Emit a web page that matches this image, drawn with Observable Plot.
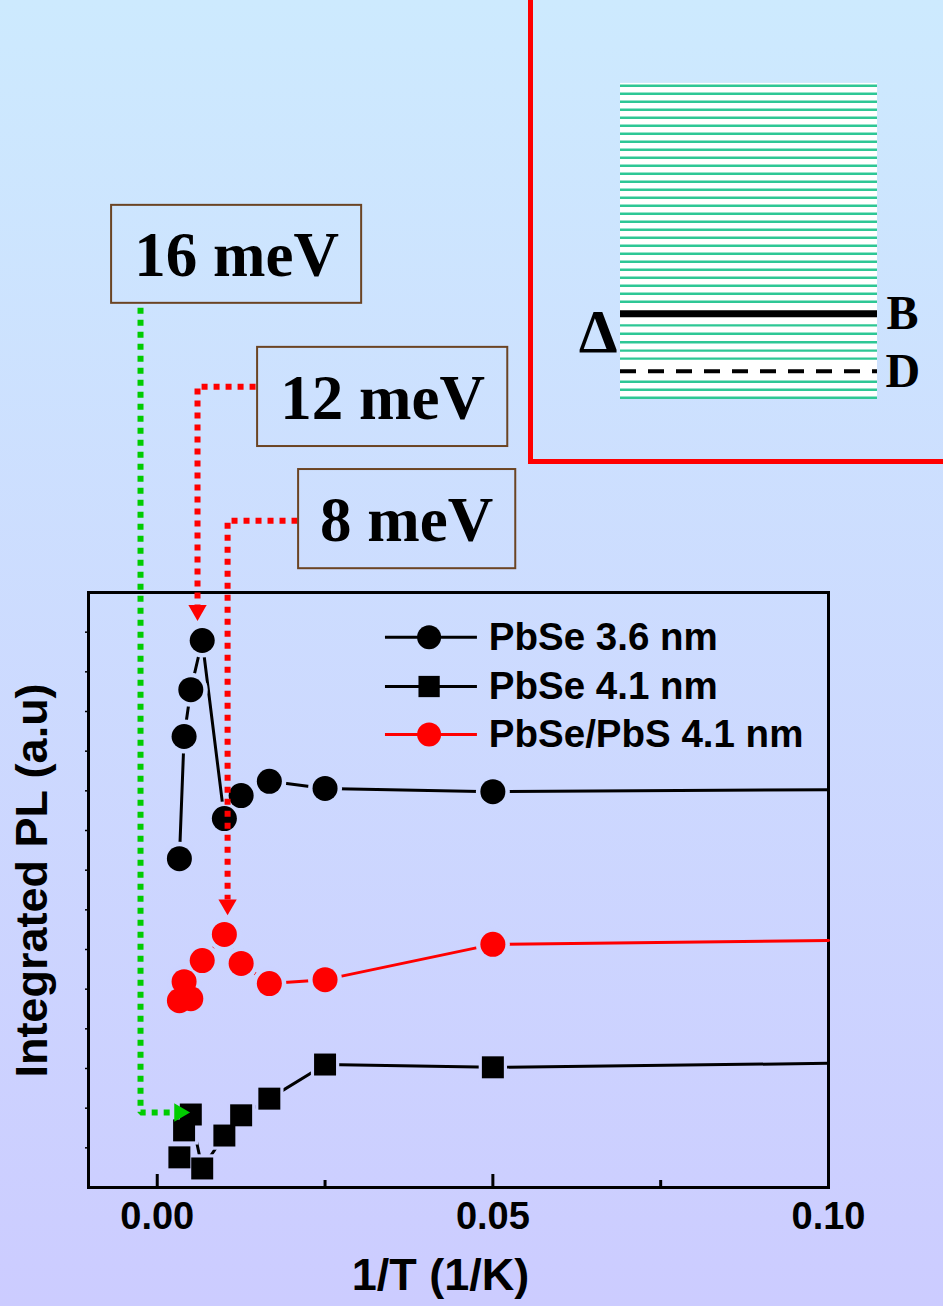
<!DOCTYPE html>
<html><head><meta charset="utf-8">
<script src="https://cdn.jsdelivr.net/npm/d3@7"></script>
<script src="https://cdn.jsdelivr.net/npm/@observablehq/plot@0.6"></script>
<style>
html,body{margin:0;padding:0;overflow:hidden;}
#page{position:relative;width:943px;height:1306px;background:linear-gradient(to bottom,#cdeafe 0%,#ccccff 100%);overflow:hidden;}
#main{position:absolute;left:0;top:0;}
#inset{position:absolute;left:528px;top:-5px;width:415px;height:469px;border-left:5px solid #ff0000;border-bottom:5px solid #ff0000;box-sizing:border-box;}
#inset svg, #main svg{display:block;}
</style></head><body><div id="page"><div id="main"></div><div id="inset"></div></div>
<script>
// ---------- data ----------
const invT = [0.0033, 0.004, 0.005, 0.0067, 0.01, 0.0125, 0.0167, 0.025, 0.05, 0.1];
const pbse36 = [8.29, 11.37, 12.55, 13.79, 9.30, 9.88, 10.24, 10.06, 9.98, 10.03];
const pbse41 = [0.76, 1.44, 1.84, 0.48, 1.31, 1.82, 2.24, 3.10, 3.03, 3.13];
const pbsePbs41 = [4.71, 5.19, 4.76, 5.72, 6.38, 5.65, 5.14, 5.24, 6.13, 6.23];
const seriesNames = ["PbSe 3.6 nm", "PbSe 4.1 nm", "PbSe/PbS 4.1 nm"];
const xMajorTicks = [0, 0.05, 0.1];
const xMinorTicks = [0.025, 0.075];
const yTicks = [1,2,3,4,5,6,7,8,9,10,11,12,13,14];
const xTitle = "1/T (1/K)";
const yTitle = "Integrated PL (a.u)";
const energyLabels = ["16 meV", "12 meV", "8 meV"];
// inset energy levels
const greenLevels = [0,1,2,4.9,5.9,6.95,8,9.05,12,13,14,15,16,17,18,19,20,21,22,23,24,25,26,27,28,29,30,31,32,33,34,35,36,37,38,39];
const brightLevel = [10.5];
const darkLevel = [3.33];
const insetLabels = ["B", "D", "Δ"];

// ---------- layout / style ----------
const W = 943, H = 1306, mL = 88, mR = 115, mT = 592, mB = 119;
const xDomain = [-0.01024, 0.1], yDomain = [0, 15];
const bgTop = "#cdeafe", bgBottom = "#ccccff";
const sans = "Liberation Sans, Arial, Helvetica, sans-serif";
const serif = "Liberation Serif, Times New Roman, serif";
const seriesStyle = [
  {color: "black", symbol: "circle", r: 12.5},
  {color: "black", symbol: "square", r: 12.4},
  {color: "#ff0000", symbol: "circle", r: 12.5}
];
const seriesValues = [pbse36, pbse41, pbsePbs41];

const rows = [];
seriesNames.forEach((name, s) => {
  invT.forEach((x, i) => rows.push({series: name, x, y: seriesValues[s][i], ...seriesStyle[s]}));
});
const markerRows = rows.filter(d => d.x < 0.1);
const frameH = H - mT - mB, frameW = W - mL - mR;
const pyOf = y => mT + (yDomain[1] - y) / (yDomain[1] - yDomain[0]) * frameH;
const haloFill = d => d3.interpolateRgb(bgTop, bgBottom)(pyOf(d.y) / H);

// legend (positions in data space)
const legendRows = [13.87, 12.63, 11.42];
const legendItems = seriesNames.map((label, i) => ({label, y: legendRows[i], ...seriesStyle[i]}));
const legendX = {lineStart: 0.034, marker: 0.0405, lineEnd: 0.0477, text: 0.0494};

// annotation boxes (data space)
const boxes = [
  {label: energyLabels[0], x1: -0.0068, x2: 0.03045, y1: 22.29, y2: 24.76, tx: 0.01182, ty: 23.48},
  {label: energyLabels[1], x1: 0.01495, x2: 0.05222, y1: 18.68, y2: 21.18, tx: 0.03357, ty: 19.88},
  {label: energyLabels[2], x1: 0.02106, x2: 0.05341, y1: 15.60, y2: 18.10, tx: 0.03716, ty: 16.81}
];
const leaderPaths = [
  {id: "g", color: "#00cc00", pts: [[-0.00249, 22.18], [-0.00249, 1.89], [0.00258, 1.89]]},
  {id: "r12", color: "#ff0000", pts: [[0.01465, 20.19], [0.0060, 20.19], [0.0060, 14.67]]},
  {id: "r8", color: "#ff0000", pts: [[0.0209, 16.81], [0.01048, 16.81], [0.01048, 7.26]]}
];
const leaderRows = leaderPaths.flatMap(p => p.pts.map(([x, y]) => ({id: p.id, color: p.color, x, y})));
const arrowHeads = [
  {x: 0.00332, y: 1.89, angle: 90, color: "#00cc00"},
  {x: 0.0060, y: 14.55, angle: 180, color: "#ff0000"},
  {x: 0.01048, y: 7.13, angle: 180, color: "#ff0000"}
];

const main = Plot.plot({
  width: W, height: H,
  marginLeft: mL, marginRight: mR, marginTop: mT, marginBottom: mB,
  x: {domain: xDomain, axis: null},
  y: {domain: yDomain, axis: null},
  color: {type: "identity"},
  style: {background: "transparent", overflow: "visible"},
  marks: [
    Plot.ruleX(xMajorTicks, {x: d => d, stroke: "black", strokeWidth: 3, insetTop: frameH - 13}),
    Plot.ruleX(xMinorTicks, {x: d => d, stroke: "black", strokeWidth: 3, insetTop: frameH - 7}),
    Plot.ruleY(yTicks, {y: d => d, stroke: "black", strokeWidth: 1.5, insetRight: frameW - 3, dx: -3}),
    Plot.frame({stroke: "black", strokeWidth: 3}),
    Plot.line(rows, {x: "x", y: "y", z: "series", stroke: "color", strokeWidth: 3}),
    Plot.dot(markerRows.filter(d => d.symbol === "circle"), {x: "x", y: "y", r: 17, fill: haloFill, symbol: "circle"}),
    Plot.dot(markerRows.filter(d => d.symbol === "square"), {x: "x", y: "y", r: 16, fill: haloFill, symbol: "square"}),
    Plot.dot(markerRows.filter(d => d.symbol === "circle"), {x: "x", y: "y", r: 12.5, fill: "color", symbol: "circle"}),
    Plot.dot(markerRows.filter(d => d.symbol === "square"), {x: "x", y: "y", r: 12.4, fill: "color", symbol: "square"}),
    // legend
    Plot.ruleY(legendItems, {y: "y", x1: legendX.lineStart, x2: legendX.lineEnd, stroke: "color", strokeWidth: 3}),
    Plot.dot(legendItems.filter(d => d.symbol === "circle"), {x: legendX.marker, y: "y", r: 12, fill: "color", symbol: "circle"}),
    Plot.dot(legendItems.filter(d => d.symbol === "square"), {x: legendX.marker, y: "y", r: 12, fill: "color", symbol: "square"}),
    Plot.text(legendItems, {x: legendX.text, y: "y", text: "label", textAnchor: "start", lineAnchor: "middle", fontSize: 38.5, fontWeight: "bold", fontFamily: sans, fill: "black"}),
    // annotations
    Plot.line(leaderRows, {x: "x", y: "y", z: "id", stroke: "color", strokeWidth: 6, strokeDasharray: "6 6", strokeLinecap: "butt", strokeLinejoin: "miter"}),
    Plot.dot(arrowHeads, {x: "x", y: "y", r: 6.8, symbol: "triangle", fill: "color", rotate: "angle"}),
    Plot.rect(boxes, {x1: "x1", x2: "x2", y1: "y1", y2: "y2", fill: "none", stroke: "#6b4423", strokeWidth: 2}),
    Plot.text(boxes, {x: "tx", y: "ty", text: "label", lineAnchor: "middle", fontSize: 63, fontWeight: "bold", fontFamily: serif, fill: "black"}),
    // tick labels and titles
    Plot.text(xMajorTicks, {x: d => d, frameAnchor: "bottom", dy: 29, lineAnchor: "middle", text: d => d3.format(".2f")(d), fontSize: 38, fontWeight: "bold", fontFamily: sans, fill: "black"}),
    Plot.text([xTitle], {frameAnchor: "bottom", dy: 88, dx: -18, textAnchor: "middle", lineAnchor: "middle", text: d => d, fontSize: 45, fontWeight: "bold", fontFamily: sans, fill: "black"}),
    Plot.text([yTitle], {frameAnchor: "left", dx: -56, dy: -9.5, rotate: -90, textAnchor: "middle", lineAnchor: "middle", text: d => d, fontSize: 45, fontWeight: "bold", fontFamily: sans, fill: "black"})
  ]
});
document.getElementById("main").appendChild(main);

// ---------- inset ----------
const iW = 410, iH = 464;
const inset = Plot.plot({
  width: iW, height: iH,
  marginLeft: 87, marginRight: 66, marginTop: 90.3, marginBottom: 61.7,
  x: {domain: [0, 1], axis: null},
  y: {domain: [0, 39], axis: null},
  style: {background: "transparent", overflow: "visible"},
  marks: [
    Plot.rect([0], {x1: 0, x2: 1, y1: -0.12, y2: 39.3, fill: "white"}),
    Plot.ruleY(greenLevels, {y: d => d, x1: 0, x2: 1, stroke: "#2ec795", strokeWidth: 2.4}),
    Plot.ruleY(brightLevel, {y: d => d, x1: 0, x2: 1, stroke: "black", strokeWidth: 7}),
    Plot.ruleY(darkLevel, {y: d => d, x1: 0, x2: 1, stroke: "black", strokeWidth: 4, strokeDasharray: "16,12"}),
    Plot.text([insetLabels[0]], {x: 1, y: brightLevel[0], dx: 9, text: d => d, textAnchor: "start", lineAnchor: "middle", fontSize: 48, fontWeight: "bold", fontFamily: serif, fill: "black"}),
    Plot.text([insetLabels[1]], {x: 1, y: darkLevel[0], dx: 8, text: d => d, textAnchor: "start", lineAnchor: "middle", fontSize: 48, fontWeight: "bold", fontFamily: serif, fill: "black"}),
    Plot.text([insetLabels[2]], {x: 0, y: 8.2, dx: -3, text: d => d, textAnchor: "end", lineAnchor: "middle", fontSize: 62, fontWeight: "bold", fontFamily: serif, fill: "black"})
  ]
});
document.getElementById("inset").appendChild(inset);
</script></body></html>
